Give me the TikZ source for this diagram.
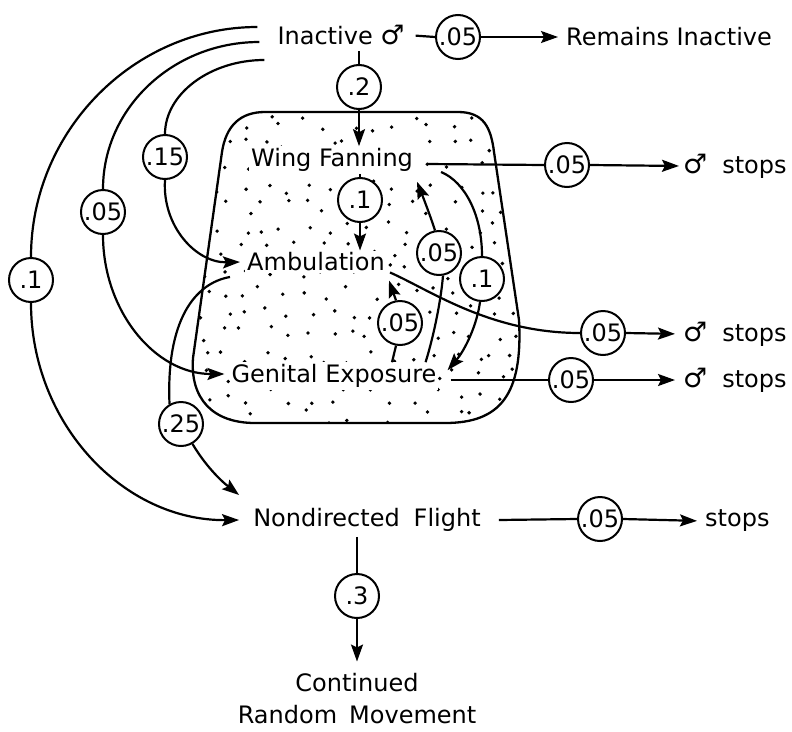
\documentclass[tikz,border=0pt]{standalone}
\usepackage{fontspec}
\setmainfont{DejaVu Sans}
\usetikzlibrary{arrows.meta,calc,backgrounds}
\newcommand{\male}{\scalebox{1.12}{♂}}
\begin{document}
\begin{tikzpicture}[x=1pt,y=-1pt,
  every node/.style={font=\fontsize{24}{32}\selectfont},
  lbl/.style={inner sep=2pt},
  lblw/.style={inner sep=2pt,fill=white},
  prob/.style={circle,draw,line width=2pt,fill=white,minimum size=44pt,inner sep=0pt},
  conn/.style={line width=2.2pt},
  arr/.style={line width=2.2pt,-{Stealth[length=17pt,width=12pt,inset=3pt]}}]
\useasboundingbox (0,0) rectangle (792,731);

% stippled region
\begin{scope}[on background layer]
  \begin{scope}
    \clip (265,112) -- (458,112) .. controls (484,112) and (491,128) .. (494,152) -- (519,320)
      .. controls (523,395) and (500,423) .. (445,423) -- (255,423)
      .. controls (212,423) and (190,398) .. (193,358) -- (222,152)
      .. controls (226,126) and (240,112) .. (265,112) -- cycle;
    \pgfmathsetseed{11}
    \foreach \i in {0,...,15}{\foreach \j in {0,...,14}{
      \pgfmathsetmacro{\xx}{202+\i*21+8*rand}
      \pgfmathsetmacro{\yy}{124+\j*21+8*rand}
      \fill (\xx,\yy) circle (1.9pt);
    }}
  \end{scope}
  \draw[line width=2.3pt] (265,112) -- (458,112) .. controls (484,112) and (491,128) .. (494,152) -- (519,320)
      .. controls (523,395) and (500,423) .. (445,423) -- (255,423)
      .. controls (212,423) and (190,398) .. (193,358) -- (222,152)
      .. controls (226,126) and (240,112) .. (265,112) -- cycle;
\end{scope}

% text nodes
\node[lbl] (inact) at (341,35) {Inactive \male};
\node[lbl,anchor=west] (rem) at (564,37) {Remains Inactive};
\node[lblw] (wing) at (332,160) {Wing Fanning};
\node[lblw] (amb) at (316,262) {Ambulation};
\node[lblw] (gen) at (334,376) {Genital Exposure};
\node[lbl] (nd) at (367,520) {Nondirected\hspace{14pt}Flight};
\node[lbl,align=center] (cont) at (357,699) {Continued\\Random\hspace{12pt}Movement};
\node[lbl,anchor=west] (sW) at (681,166) {\male\hspace{15pt}stops};
\node[lbl,anchor=west] (sA) at (681,334) {\male\hspace{15pt}stops};
\node[lbl,anchor=west] (sG) at (681,380) {\male\hspace{15pt}stops};
\node[lbl,anchor=west] (sN) at (703,521) {stops};

% probability circles
\node[prob] (c1) at (458,37) {.05};
\node[prob] (c2) at (359,87) {.2};
\node[prob] (c3) at (360,200) {.1};
\node[prob] (c15) at (165,157) {.15};
\node[prob] (c05L) at (103,212) {.05};
\node[prob] (c1L) at (31,280) {.1};
\node[prob] (c25) at (181,424) {.25};
\node[prob] (c05W) at (567,165) {.05};
\node[prob] (c05A) at (603,333) {.05};
\node[prob] (c05G) at (571,380) {.05};
\node[prob] (c05N) at (600,519) {.05};
\node[prob] (c3b) at (357,596) {.3};
\node[prob] (ci1) at (400,323) {.05};
\node[prob] (ci2) at (439,253) {.05};
\node[prob] (ci3) at (482,279) {.1};

% free ends
\coordinate (s1) at ($(inact.west)+(-18,-8)$);
\coordinate (s2) at ($(inact.west)+(-16,7)$);
\coordinate (s3) at ($(inact.west)+(-11,25)$);

% top row
\draw[conn,shorten <=9pt] (inact.east) -- (c1.west);
\draw[arr,shorten >=6pt] (c1.east) -- (rem.west);

% vertical chain
\draw[conn,shorten <=4pt] (c2 |- inact.south) -- (c2.north);
\draw[arr] (c2.south) -- (c2 |- wing.north);
\draw[conn] (c3 |- wing.south) -- (c3.north);
\draw[arr] (c3.south) -- (c3 |- amb.north);

% left arcs
\draw[conn] (s1) .. controls (134,27) and (31,131) .. (c1L.north);
\draw[arr] (c1L.south) .. controls (31,423) and (123,521) .. ($(nd.west)+(-12,0)$);
\draw[conn] (s2) .. controls (173,42) and (103,108) .. (c05L.north);
\draw[arr] (c05L.south) .. controls (103,311) and (155,374) .. ($(gen.west)+(-5,-2)$);
\draw[conn] (s3) .. controls (210,60) and (165,94) .. (c15.north);
\draw[arr] (c15.south) .. controls (162,226) and (196,263) .. ($(amb.west)+(-5,0)$);

% ambulation to nondirected flight
\draw[conn] ($(amb.west)+(-15,15)$) .. controls (195,283) and (166,320) .. (c25.120);
\draw[arr] (c25.-60) .. controls (205,465) and (220,480) .. ($(nd.west)+(-12,-25)$);

% inner transitions
\draw[conn] ($(gen.north)+(58,0)$) -- (ci1.260);
\draw[arr] (ci1.100) -- ($(amb.south east)+(2,7)$);
\draw[conn] ($(gen.north east)+(-13,0)$) .. controls (434,335) and (441,300) .. (ci2.-80);
\draw[arr] (ci2.100) .. controls (430,215) and (423,197) .. ($(wing.south east)+(2,8)$);
\draw[conn] ($(wing.east)+(26,12)$) .. controls (465,182) and (482,215) .. (ci3.north);
\draw[arr] (ci3.-95) .. controls (477,325) and (465,350) .. ($(gen.north east)+(9,8)$);

% exits
\draw[conn] ($(wing.east)+(12,4)$) -- (c05W.west);
\draw[arr,shorten >=2pt] (c05W.east) -- (sW.west);
\draw[conn] ($(amb.south east)+(3,-1)$) .. controls (430,290) and (490,333) .. (c05A.west);
\draw[arr,shorten >=6pt] (c05A.east) -- (sA.west);
\draw[conn] ($(gen.east)+(12,4)$) -- (c05G.west);
\draw[arr,shorten >=6pt] (c05G.east) -- (sG.west);
\draw[conn] ($(nd.east)+(16,0)$) -- (c05N.west);
\draw[arr,shorten >=6pt] (c05N.east) -- (sN.west);
\draw[conn,shorten <=3pt] (c3b |- nd.south) -- (c3b.north);
\draw[arr,shorten >=10pt] (c3b.south) -- (c3b |- cont.north);
\end{tikzpicture}
\end{document}
